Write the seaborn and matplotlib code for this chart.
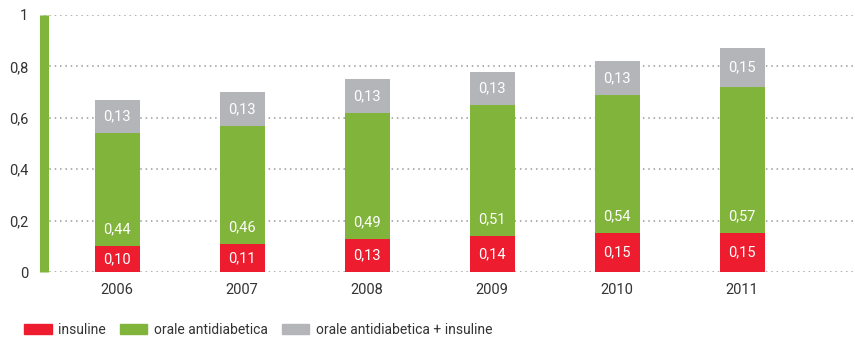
import matplotlib
matplotlib.use("Agg")
import matplotlib.pyplot as plt
import matplotlib.patches as mpatches
import seaborn as sns
import pandas as pd
import numpy as np

years = ["2006", "2007", "2008", "2009", "2010", "2011"]
insuline = [0.10, 0.11, 0.13, 0.14, 0.15, 0.15]
orale = [0.44, 0.46, 0.49, 0.51, 0.54, 0.57]
combinatie = [0.13, 0.13, 0.13, 0.13, 0.13, 0.15]
series_names = ["insuline", "orale antidiabetica", "orale antidiabetica + insuline"]
y_ticks = [0, 0.2, 0.4, 0.6, 0.8, 1.0]
y_labels = ["0", "0,2", "0,4", "0,6", "0,8", "1"]

RED = "#ED1C2E"
GREEN = "#80B43A"
GRAY = "#B3B5B8"
TEXT = "#333333"

sns.set_style("white")
plt.rcParams["font.family"] = ["Roboto", "DejaVu Sans"]

df = pd.DataFrame({"jaar": years, "insuline": insuline,
                   "orale": orale, "combinatie": combinatie})
df["lvl1"] = df["insuline"]
df["lvl2"] = df["insuline"] + df["orale"]
df["lvl3"] = df["lvl2"] + df["combinatie"]

fig = plt.figure(figsize=(8.55, 3.39), dpi=100)
ax = fig.add_axes([43.5 / 855, 1 - 272 / 339, 1 - 43.5 / 855, (272 - 15) / 339])

w = 0.36
bar_kw = dict(width=w, saturation=1, ax=ax, zorder=3, linewidth=0, edgecolor="none")
sns.barplot(data=df, x="jaar", y="lvl3", color=GRAY, **bar_kw)
sns.barplot(data=df, x="jaar", y="lvl2", color=GREEN, **bar_kw)
sns.barplot(data=df, x="jaar", y="lvl1", color=RED, **bar_kw)

def fmt(v):
    return f"{v:.2f}".replace(".", ",")

lab_kw = dict(ha="center", va="center", color="white", fontsize=10.5, zorder=5)
for i in range(len(years)):
    ax.text(i, df["lvl1"][i] / 2, fmt(insuline[i]), **lab_kw)
    ax.text(i, df["lvl1"][i] + 0.065, fmt(orale[i]), **lab_kw)
    ax.text(i, (df["lvl2"][i] + df["lvl3"][i]) / 2, fmt(combinatie[i]), **lab_kw)

ax.set_xlim((43.5 - 117) / 125, (855 - 117) / 125)
ax.set_ylim(0, 1)
ax.set_yticks(y_ticks)
ax.set_yticklabels(y_labels)
ax.set_xlabel("")
ax.set_ylabel("")
ax.tick_params(axis="both", length=0, labelsize=10.5, colors=TEXT)
ax.tick_params(axis="y", pad=11)
ax.tick_params(axis="x", pad=8)

ax.grid(axis="y", color="#9A9A9A", linestyle=(0, (1, 2.5)), linewidth=1.1, zorder=0)
ax.set_axisbelow(True)
for s in ["top", "right", "bottom"]:
    ax.spines[s].set_visible(False)
ax.spines["left"].set_color(GREEN)
ax.spines["left"].set_linewidth(6.5)
ax.spines["left"].set_capstyle("butt")

handles = [mpatches.Patch(color=c, label=n) for c, n in zip([RED, GREEN, GRAY], series_names)]
fig.legend(handles=handles, loc="center left", bbox_to_anchor=(0.014, 0.027), ncol=3,
           frameon=False, fontsize=10, handlelength=1.95, handleheight=0.75,
           handletextpad=0.5, columnspacing=1.0, labelcolor=TEXT)

fig.savefig("out.png", dpi=100)
